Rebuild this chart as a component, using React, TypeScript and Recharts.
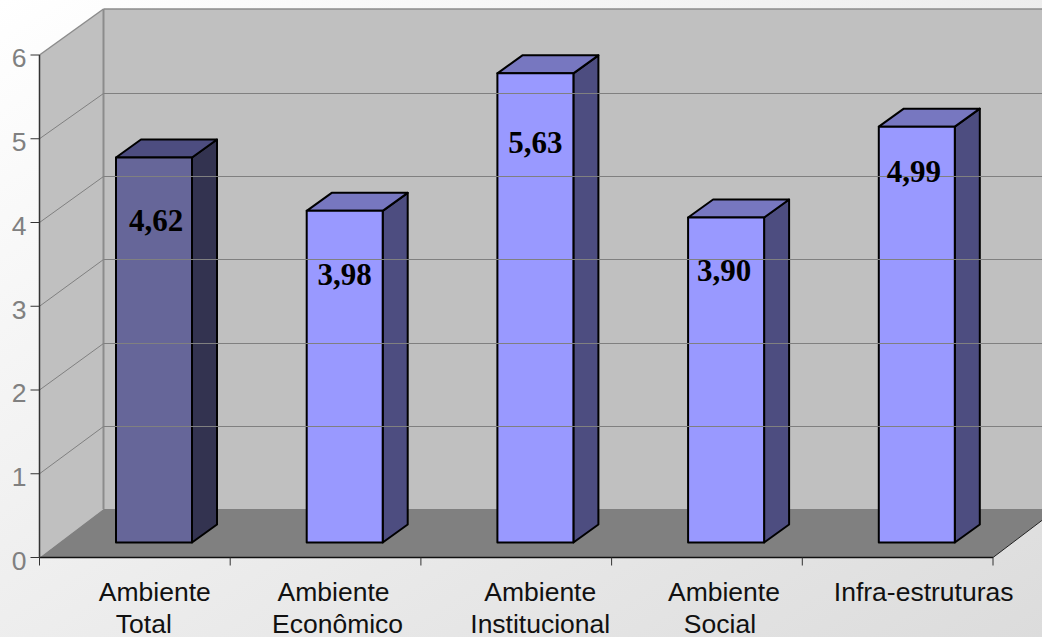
import { Bar, BarChart, LabelList, ReferenceArea, ReferenceLine, XAxis, YAxis } from 'recharts'

const categories = ['Ambiente Total', 'Ambiente Econômico', 'Ambiente Institucional', 'Ambiente Social', 'Infra-estruturas']
const values = [4.62, 3.98, 5.63, 3.9, 4.99]
const yTicks = [0, 1, 2, 3, 4, 5, 6]

const data = categories.map((name, i) => ({ name, value: values[i] }))

// how far below the bar top each value label sits
const labelDrop = [64, 65, 71, 54, 46]
const labelNudge = [2, 0, 0, -2, -3]

// horizontal offset of each category label line from the band centre
const tickLineShift = [
  [20, 9],
  [8, 12],
  [24, 24],
  [17, 13],
  [26],
]

// oblique "3D" offsets
const WALL_DX = 64
const WALL_DY = 48.5
const BAR_DX = 19.5
const BAR_DY = 15
const SIDE_DX = 25
const SIDE_DY = 18
const BACK_SCALE = 0.995

const faces = [
  { front: '#666699', top: '#4d4d80', side: '#333350' },
  { front: '#9999ff', top: '#7777c0', side: '#4d4d80' },
]

const faceFor = (i: number) => (i === 0 ? faces[0] : faces[1])

function Walls(props: any) {
  const { x, y, width, height } = props
  const right = x + width
  const bottom = y + height
  const backTop = bottom - WALL_DY - height * BACK_SCALE
  return (
    <g>
      <polygon
        points={`${x},${y} ${x + WALL_DX},${backTop} ${x + WALL_DX},${bottom - WALL_DY} ${x},${bottom}`}
        fill="#c0c0c0"
      />
      <rect x={x + WALL_DX} y={backTop} width={width + 20} height={bottom - WALL_DY - backTop} fill="#c0c0c0" />
      <polygon
        points={`${x},${bottom} ${x + WALL_DX},${bottom - WALL_DY} ${right + WALL_DX},${bottom - WALL_DY} ${right},${bottom}`}
        fill="#808080"
      />
      <line x1={x} y1={y} x2={x + WALL_DX} y2={backTop} stroke="#8c8c8c" strokeWidth={1.5} />
      <line x1={x + WALL_DX} y1={backTop} x2={right + WALL_DX} y2={backTop} stroke="#8c8c8c" strokeWidth={1.5} />
      <line x1={x + WALL_DX} y1={backTop} x2={x + WALL_DX} y2={bottom - WALL_DY} stroke="#8c8c8c" strokeWidth={2} />
      <line x1={right} y1={bottom} x2={right + WALL_DX} y2={bottom - WALL_DY} stroke="#222" strokeWidth={1} />
    </g>
  )
}

function GridLine(props: any) {
  const { x1, x2, y1, y2 } = props
  const bottom = 557.5
  const backY = Math.round(bottom - WALL_DY - (bottom - y1) * 0.9934) + 0.5
  return (
    <g>
      <line x1={x1} y1={y1} x2={x1 + WALL_DX} y2={backY} stroke="#808080" strokeWidth={1} />
      <line x1={x1 + WALL_DX} y1={backY} x2={x2 + WALL_DX} y2={y2 - y1 + backY} stroke="#808080" strokeWidth={1} />
    </g>
  )
}

function Bar3D(props: any) {
  const { x, y, width, height, index } = props
  const c = faceFor(index)
  const h = height * BACK_SCALE
  const left = x + BAR_DX
  const right = left + width
  const bottom = y + height - BAR_DY
  const top = bottom - h
  return (
    <g stroke="#000" strokeWidth={2} strokeLinejoin="round">
      <polygon
        points={`${right},${top} ${right + SIDE_DX},${top - SIDE_DY} ${right + SIDE_DX},${bottom - SIDE_DY} ${right},${bottom}`}
        fill={c.side}
      />
      <polygon
        points={`${left},${top} ${left + SIDE_DX},${top - SIDE_DY} ${right + SIDE_DX},${top - SIDE_DY} ${right},${top}`}
        fill={c.top}
      />
      <rect x={left} y={top} width={width} height={h} fill={c.front} />
    </g>
  )
}

function ValueLabel(props: any) {
  const { x, y, width, height, value, index } = props
  const h = height * BACK_SCALE
  const top = y + height - BAR_DY - h
  return (
    <text
      x={x + BAR_DX + width / 2 + labelNudge[index]}
      y={top + labelDrop[index]}
      dy={9}
      textAnchor="middle"
      fontFamily="'Liberation Serif', serif"
      fontWeight="bold"
      fontSize={31}
      fill="#000"
    >
      {Number(value).toFixed(2).replace('.', ',')}
    </text>
  )
}

function CategoryTick(props: any) {
  const { x, y, payload, index } = props
  const band = 190.7
  const words = String(payload.value).split(' ')
  return (
    <g>
      <line x1={x - band / 2} y1={y} x2={x - band / 2} y2={y + 8} stroke="#333" />
      {index === categories.length - 1 && <line x1={x + band / 2} y1={y} x2={x + band / 2} y2={y + 8} stroke="#333" />}
      <text textAnchor="middle" fontFamily="'Liberation Sans', Arial, sans-serif" fontSize={26.5} fill="#111">
        {words.map((w, i) => (
          <tspan key={w} x={x + tickLineShift[index][i]} y={y + 43 + i * 32}>
            {w}
          </tspan>
        ))}
      </text>
    </g>
  )
}

export default function App() {
  return (
    <div
      style={{
        position: 'absolute',
        left: 0,
        top: 0,
        width: 1042,
        height: 637,
        overflow: 'hidden',
        background: 'linear-gradient(to bottom right, #ffffff 0%, #dcdcdc 100%)',
      }}
    >
      <BarChart
        width={1042}
        height={637}
        data={data}
        barSize={76}
        margin={{ top: 55, right: 49, bottom: 0, left: 0 }}
      >
        <ReferenceArea ifOverflow="visible" shape={<Walls />} />
        {yTicks.slice(1, -1).map((t) => (
          <ReferenceLine key={t} y={t} ifOverflow="visible" shape={<GridLine />} />
        ))}
        <XAxis
          dataKey="name"
          interval={0}
          height={79.5}
          tickSize={0}
          tickMargin={0}
          tickLine={false}
          axisLine={{ stroke: '#111', strokeWidth: 1.5 }}
          tick={<CategoryTick />}
        />
        <YAxis
          domain={[0, 6]}
          ticks={yTicks}
          width={39.5}
          tickSize={9}
          tickMargin={4}
          axisLine={{ stroke: '#333', strokeWidth: 1.5 }}
          tickLine={{ stroke: '#333' }}
          tick={{ fill: '#808080', fontSize: 26.5, fontFamily: "'Liberation Sans', Arial, sans-serif", dy: 3 }}
        />
        <Bar dataKey="value" isAnimationActive={false} shape={<Bar3D />}>
          <LabelList dataKey="value" content={<ValueLabel />} />
        </Bar>
      </BarChart>
    </div>
  )
}
